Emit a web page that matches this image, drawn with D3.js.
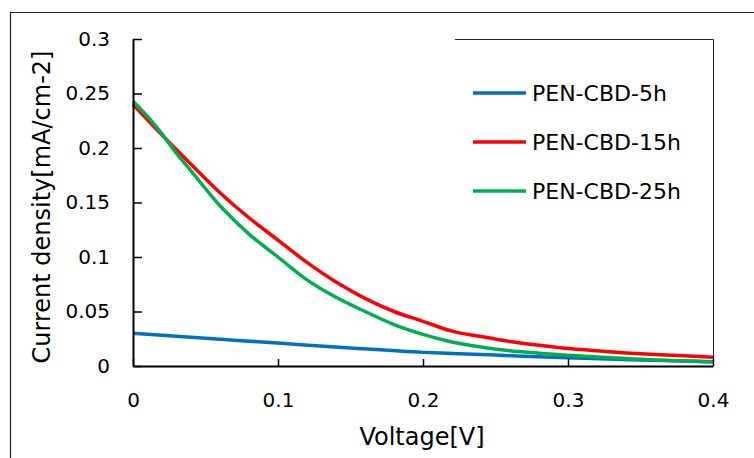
<!DOCTYPE html>
<html>
<head>
<meta charset="utf-8">
<script src="https://cdn.jsdelivr.net/npm/d3@7"></script>
<style>
  body { margin: 0; background: #fff; }
  svg text { font-family: "DejaVu Sans", sans-serif; fill: #000; }
</style>
</head>
<body>
<div id="chart"></div>
<script>
// series (voltage in V, current density in mA/cm-2)
var seriesNames = ["PEN-CBD-5h", "PEN-CBD-15h", "PEN-CBD-25h"]
var seriesColors = ["#0070C0", "#FF0000", "#00B050"]

var volt5h = [0, 0.05, 0.1, 0.15, 0.2, 0.22, 0.25, 0.3, 0.35, 0.4]
var cur5h = [0.030, 0.0255, 0.021, 0.0165, 0.0125, 0.0115, 0.010, 0.0075, 0.0055, 0.004]

var volt15h = [0, 0.02, 0.04, 0.06, 0.08, 0.1, 0.12, 0.14, 0.16, 0.18, 0.2, 0.22, 0.24, 0.26, 0.28, 0.3, 0.32, 0.34, 0.36, 0.38, 0.4]
var cur15h = [0.240, 0.212, 0.185, 0.159, 0.136, 0.1155, 0.095, 0.077, 0.062, 0.050, 0.041, 0.032, 0.027, 0.0225, 0.019, 0.016, 0.014, 0.012, 0.0105, 0.0093, 0.008]

var volt25h = [0, 0.01, 0.02, 0.03, 0.04, 0.06, 0.08, 0.1, 0.12, 0.14, 0.16, 0.18, 0.2, 0.22, 0.24, 0.26, 0.28, 0.3, 0.32, 0.34, 0.36, 0.38, 0.4]
var cur25h = [0.243, 0.229, 0.213, 0.195, 0.179, 0.147, 0.121, 0.100, 0.079, 0.063, 0.050, 0.038, 0.029, 0.022, 0.0175, 0.014, 0.0118, 0.0098, 0.0082, 0.0068, 0.0056, 0.0046, 0.0037]

var xTicks = [0, 0.1, 0.2, 0.3, 0.4]
var yTicks = [0, 0.05, 0.1, 0.15, 0.2, 0.25, 0.3]

// margin convention (window.top is reserved, so prefix the names)
var W = 754, H = 458
var mLeft = 133, mTop = 39, mRight = 41, mBottom = 92
var width = W - mLeft - mRight
var height = H - mTop - mBottom

var xScale = d3.scaleLinear().domain([0, 0.4]).range([0, width])
var yScale = d3.scaleLinear().domain([0, 0.3]).range([height, 0])

var svg = d3.select("#chart").append("svg")
  .attr("width", W)
  .attr("height", H)

// outer frame (only left and top edges are inside the picture)
svg.append("path")
  .attr("d", "M10.5," + H + "V12.5H" + W)
  .attr("fill", "none")
  .attr("stroke", "#222")
  .attr("stroke-width", 1.2)

var g = svg.append("g").attr("transform", "translate(" + mLeft + "," + mTop + ")")

// plot area border on the right and part of the top
g.append("path")
  .attr("d", "M" + xScale(0.222) + ",0.5H" + (width + 0.5) + "V" + height)
  .attr("fill", "none")
  .attr("stroke", "#222")
  .attr("stroke-width", 1)

var seriesData = [
  d3.zip(volt5h, cur5h),
  d3.zip(volt15h, cur15h),
  d3.zip(volt25h, cur25h)
]

var line = d3.line()
  .x(d => xScale(d[0]))
  .y(d => yScale(d[1]))
  .curve(d3.curveMonotoneX)

g.selectAll(".series").data(seriesData).enter().append("path")
  .attr("class", "series")
  .attr("d", line)
  .attr("fill", "none")
  .attr("stroke", (d, i) => seriesColors[i])
  .attr("stroke-width", 3.5)
  .attr("stroke-linejoin", "round")

// axes, ticks point inward
g.append("g").attr("transform", "translate(0," + height + ")")
  .call(d3.axisBottom(xScale).tickValues(xTicks).tickFormat(d3.format("~g"))
    .tickSizeInner(-7).tickSizeOuter(0).tickPadding(27))
g.append("g")
  .call(d3.axisLeft(yScale).tickValues(yTicks).tickFormat(d3.format("~g"))
    .tickSizeInner(-9).tickSizeOuter(0).tickPadding(23))

g.selectAll(".domain").attr("stroke", "#000").attr("stroke-width", 2)
g.selectAll(".tick line").attr("stroke", "#000").attr("stroke-width", 1.5)
g.selectAll(".tick text")
  .attr("font-size", 20)
  .attr("font-family", null)

// axis titles
svg.append("text")
  .attr("x", 422).attr("y", 445)
  .attr("text-anchor", "middle")
  .attr("font-size", 24)
  .text("Voltage[V]")

svg.append("text")
  .attr("transform", "translate(50,207) rotate(-90)")
  .attr("text-anchor", "middle")
  .attr("font-size", 24)
  .text("Current density[mA/cm-2]")

// legend
var legend = svg.append("g")
var rowY = [93, 142, 191]
seriesNames.forEach(function (name, i) {
  legend.append("line")
    .attr("x1", 473).attr("x2", 526)
    .attr("y1", rowY[i]).attr("y2", rowY[i])
    .attr("stroke", seriesColors[i])
    .attr("stroke-width", 3.5)
  legend.append("text")
    .attr("x", 532).attr("y", rowY[i] + 8)
    .attr("font-size", 22)
    .text(name)
})
</script>
</body>
</html>
